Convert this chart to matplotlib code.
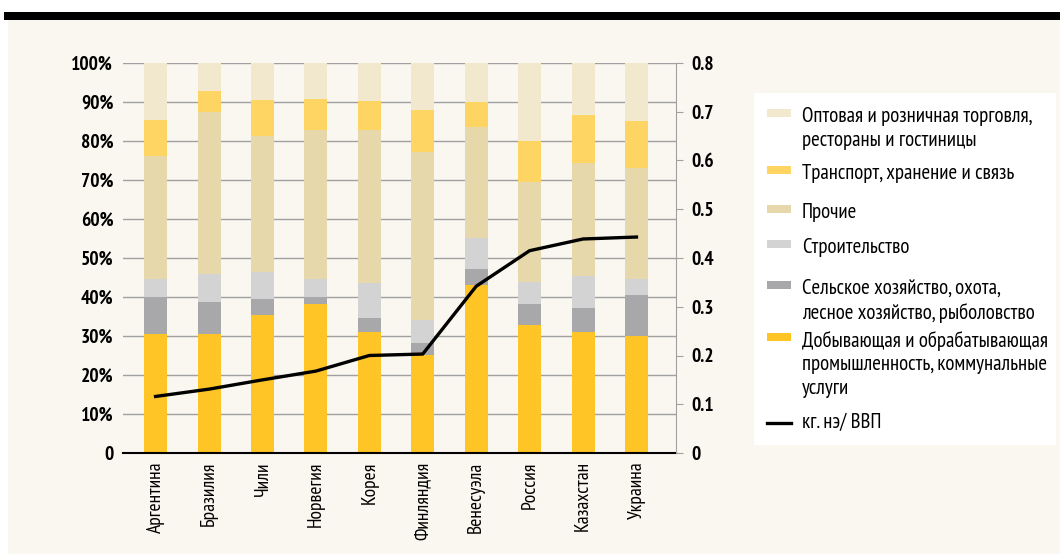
import matplotlib.pyplot as plt
from matplotlib.patches import Rectangle
from matplotlib.lines import Line2D
import numpy as np

plt.rcParams['font.family'] = ['PT Sans Narrow', 'DejaVu Sans']

countries = ["Аргентина", "Бразилия", "Чили", "Норвегия", "Корея",
             "Финляндия", "Венесуэла", "Россия", "Казахстан", "Украина"]

# shares of GDP, %
industry = [30.6, 30.6, 35.5, 38.1, 30.9, 25.2, 43.2, 32.9, 30.9, 30.1]
agri = [9.3, 8.2, 4.1, 1.8, 3.6, 2.9, 4.1, 5.4, 6.4, 10.3]
construction = [4.8, 7.0, 6.9, 4.6, 9.0, 6.0, 7.8, 5.5, 8.2, 4.1]
other = [31.5, 41.7, 34.7, 38.2, 39.2, 43.2, 28.4, 25.8, 28.8, 28.6]
transport = [9.3, 5.2, 9.2, 8.0, 7.5, 10.6, 6.5, 10.3, 12.3, 11.9]
trade = [14.5, 7.3, 9.6, 9.3, 9.8, 12.1, 10.0, 20.1, 13.4, 15.0]

energy_intensity = [0.116, 0.131, 0.150, 0.168, 0.200, 0.203, 0.342, 0.415, 0.439, 0.443]

series = [
    (industry, "#FFC425", "Добывающая и обрабатывающая\nпромышленность, коммунальные\nуслуги"),
    (agri, "#A8A8AA", "Сельское хозяйство, охота,\nлесное хозяйство, рыболовство"),
    (construction, "#D3D3D3", "Строительство"),
    (other, "#E6D8AB", "Прочие"),
    (transport, "#FED563", "Транспорт, хранение и связь"),
    (trade, "#F2E8CD", "Оптовая и розничная торговля,\nрестораны и гостиницы"),
]

W, H = 1060, 554
fig = plt.figure(figsize=(W / 100, H / 100), dpi=100, facecolor="white")

# background panels
fig.add_artist(Rectangle((8 / W, 0), 1, (H - 20) / H, transform=fig.transFigure,
                         facecolor="#F9F7EF", edgecolor="none", zorder=-5))
fig.add_artist(Rectangle((4 / W, (H - 20) / H), 1, 8 / H, transform=fig.transFigure,
                         facecolor="black", edgecolor="none", zorder=-5))

ax = fig.add_axes([123 / W, (H - 453) / H, (676 - 123) / W, (453 - 63) / H])
ax.set_facecolor("none")

x = np.arange(len(countries))
bottom = np.zeros(len(countries))
for vals, color, label in series:
    ax.bar(x, vals, 0.43, bottom=bottom, color=color, zorder=2)
    bottom += np.array(vals)

ax.set_xlim(-0.61, 9.74)
ax.set_ylim(0, 100)
ax.set_yticks(np.arange(0, 101, 10))
ax.set_yticklabels(["0"] + [f"{v}%" for v in range(10, 101, 10)],
                   fontsize=14, fontweight="bold")
ax.yaxis.grid(True, color="#A0A0A0", linewidth=1, zorder=0)
ax.tick_params(axis="y", length=0, pad=7)
ax.set_xticks(x)
ax.set_xticklabels(countries, rotation=90, fontsize=14)
ax.tick_params(axis="x", length=0, pad=6)
for s in ["left", "top", "right"]:
    ax.spines[s].set_visible(False)
ax.spines["bottom"].set_color("black")
ax.spines["bottom"].set_linewidth(1.5)
ax.spines["bottom"].set_zorder(3)

ax2 = ax.twinx()
ax2.plot(x, energy_intensity, color="black", linewidth=2.4, zorder=4)
ax2.set_ylim(0, 0.8)
ax2.set_yticks(np.arange(0, 0.81, 0.1))
ax2.set_yticklabels(["0"] + [f"{v / 10:.1f}" for v in range(1, 9)],
                    fontsize=14, fontweight="bold")
ax2.tick_params(axis="y", length=5, color="#A0A0A0", pad=6)
for s in ["left", "top", "bottom"]:
    ax2.spines[s].set_visible(False)
ax2.spines["right"].set_color("#A0A0A0")

# legend panel
fig.add_artist(Rectangle((754 / W, (H - 445) / H), (1056 - 754) / W, (445 - 93) / H,
                         transform=fig.transFigure, facecolor="white",
                         edgecolor="none", zorder=1))
legend_rows = [(series[5], 115), (series[4], 172), (series[3], 211),
               (series[2], 246), (series[1], 287), (series[0], 339)]
for (vals, color, label), yp in legend_rows:
    fig.add_artist(Rectangle((767 / W, (H - yp - 2) / H), 24 / W, 8 / H,
                             transform=fig.transFigure, facecolor=color,
                             edgecolor="none", zorder=2))
    fig.text(802 / W, (H - yp + 8) / H, label, fontsize=15, va="top",
             ha="left", linespacing=1.3, zorder=3)
fig.add_artist(Line2D([767 / W, 791 / W], [(H - 423) / H] * 2,
                      transform=fig.transFigure, color="black", linewidth=2.4, zorder=2))
fig.text(802 / W, (H - 422) / H, "кг. нэ/ ВВП", fontsize=15, va="center",
         ha="left", zorder=3)

fig.savefig("out.png", dpi=100, facecolor=fig.get_facecolor())
